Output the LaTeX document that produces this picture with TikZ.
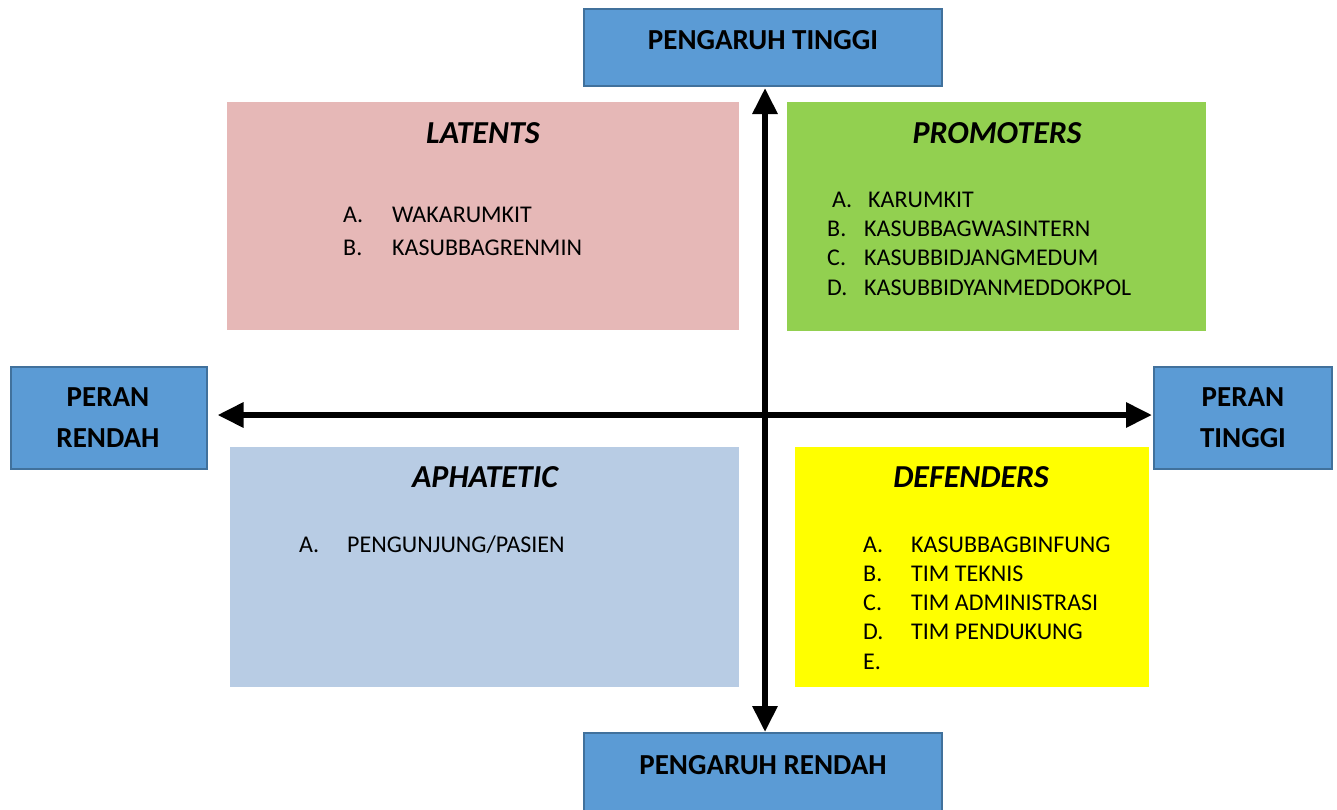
\documentclass[tikz,border=0pt]{standalone}
\usepackage{fontspec}
\setmainfont{Carlito}
\usetikzlibrary{arrows.meta}
\definecolor{boxblue}{HTML}{5B9BD5}
\definecolor{boxedge}{HTML}{41719C}
\definecolor{latentc}{HTML}{E6B8B7}
\definecolor{promoc}{HTML}{92D050}
\definecolor{aphac}{HTML}{B8CCE4}
\definecolor{defc}{HTML}{FFFF00}
\tikzset{
  bluebox/.style={draw=boxedge, line width=2pt, fill=boxblue, inner sep=0pt},
  quad/.style={fill=#1, inner sep=0pt},
  axislabel/.style={font=\fontsize{29}{34}\selectfont\bfseries, inner sep=0pt, anchor=base},
  quadtitle/.style={font=\fontsize{32}{38}\selectfont\bfseries\itshape, inner sep=0pt, anchor=base},
  item/.style={font=\fontsize{24}{29}\selectfont, inner sep=0pt, anchor=base west},
  axis/.style={line width=6pt, {Triangle[length=26pt,width=24pt]}-{Triangle[length=26pt,width=24pt]}}
}
\begin{document}
\begin{tikzpicture}[x=1pt,y=-1pt]
\clip (0,0) rectangle (1337,809);
\fill[white] (0,0) rectangle (1337,809);
% quadrants
\node[quad=latentc, minimum width=512pt, minimum height=228pt] (latent) at (483,216) {};
\node[quad=promoc, minimum width=419pt, minimum height=229pt] (promo) at (996.5,216.5) {};
\node[quad=aphac, minimum width=509pt, minimum height=240pt] (apha) at (484.5,567) {};
\node[quad=defc, minimum width=354pt, minimum height=240pt] (def) at (972,567) {};
% axis boxes
\node[bluebox, minimum width=358pt, minimum height=77pt] (top) at (763,47.5) {};
\node[bluebox, minimum width=358pt, minimum height=84pt] (bottom) at (763,775) {};
\node[bluebox, minimum width=196pt, minimum height=102pt] (left) at (108.5,418) {};
\node[bluebox, minimum width=178pt, minimum height=102pt] (right) at (1243,418) {};
% axis labels
\node[axislabel] (toplab) at (763,49) {PENGARUH TINGGI};
\node[axislabel] (botlab) at (763,774) {PENGARUH RENDAH};
\node[axislabel] (leftlab1) at (108,406) {PERAN};
\node[axislabel] (leftlab2) at (108,447) {RENDAH};
\node[axislabel] (rightlab1) at (1243,406) {PERAN};
\node[axislabel] (rightlab2) at (1243,447) {TINGGI};
% arrows
\draw[axis] ([xshift=10pt,yshift=3pt]left.east) -- ([xshift=-1pt,yshift=3pt]right.west);
\draw[axis] ([xshift=2pt,yshift=-1pt]top.south) -- ([xshift=2pt]bottom.north);
% titles
\node[quadtitle] (lt) at (483,143) {LATENTS};
\node[quadtitle] (pt) at (997,143) {PROMOTERS};
\node[quadtitle] (at) at (485,487) {APHATETIC};
\node[quadtitle] (dt) at (971,487) {DEFENDERS};
% latents
\node[item] (la) at (343,222) {A.};
\node[item] (lat) at (392,222) {WAKARUMKIT};
\node[item] (lb) at (343,255) {B.};
\node[item] (lbt) at (392,255) {KASUBBAGRENMIN};
% promoters
\node[item] (pa) at (832,207) {A.};
\node[item] (pat) at (868,207) {KARUMKIT};
\node[item] (pb) at (827,236) {B.};
\node[item] (pbt) at (864,236) {KASUBBAGWASINTERN};
\node[item] (pc) at (827,265) {C.};
\node[item] (pct) at (864,265) {KASUBBIDJANGMEDUM};
\node[item] (pd) at (827,295) {D.};
\node[item] (pdt) at (864,295) {KASUBBIDYANMEDDOKPOL};
% aphatetic
\node[item] (aa) at (299,552) {A.};
\node[item] (aat) at (347,552) {PENGUNJUNG/PASIEN};
% defenders
\node[item] (da) at (863,552) {A.};
\node[item] (dat) at (911,552) {KASUBBAGBINFUNG};
\node[item] (db) at (863,581) {B.};
\node[item] (dbt) at (911,581) {TIM TEKNIS};
\node[item] (dc) at (863,610) {C.};
\node[item] (dct) at (911,610) {TIM ADMINISTRASI};
\node[item] (dd) at (863,639) {D.};
\node[item] (ddt) at (911,639) {TIM PENDUKUNG};
\node[item] (de) at (863,669) {E.};
\end{tikzpicture}
\end{document}
